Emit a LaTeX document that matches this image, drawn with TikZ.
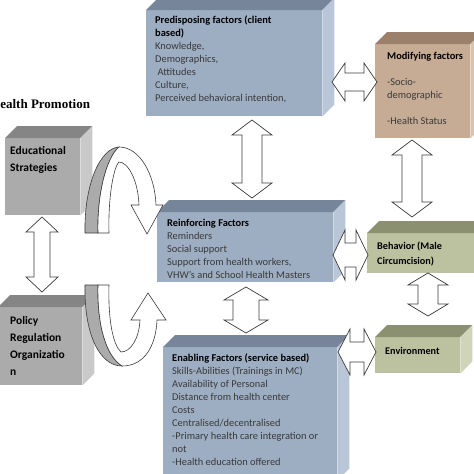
\documentclass[tikz,border=0pt]{standalone}
\usepackage{fontspec}
\setmainfont{Carlito}
\newfontfamily\timesfont{Liberation Serif}
\definecolor{slatefront}{HTML}{9DADC2}
\definecolor{slatetop}{HTML}{76859A}
\definecolor{slateside}{HTML}{B9C6D7}
\definecolor{tanfront}{HTML}{C6AB95}
\definecolor{tantop}{HTML}{9B806B}
\definecolor{tanside}{HTML}{D8C3B1}
\definecolor{olivefront}{HTML}{BCC1A0}
\definecolor{olivetop}{HTML}{8A9070}
\definecolor{oliveside}{HTML}{D0D4B8}
\definecolor{greyfront}{HTML}{ABABAB}
\definecolor{greytop}{HTML}{858585}
\definecolor{greyside}{HTML}{C9C9C9}
\definecolor{edge}{HTML}{3C3C3C}
\definecolor{bodytext}{HTML}{3A3A3A}
\tikzset{
  front/.style={inner sep=0pt, anchor=north west},
  txt/.style={inner sep=0pt, anchor=north west, align=left, text=bodytext,
    font=\fontsize{10.4}{13}\selectfont},
  bigtxt/.style={txt, text=black, font=\bfseries\fontsize{11.5}{17}\selectfont},
  blockarrow/.style={draw=edge, fill=white, line width=0.7pt, line join=miter},
  ribbon/.style={draw=edge, line width=0.6pt}
}
% top and right faces of a box
\newcommand{\cubefaces}[3]{
  \fill[#2] (#1.north west) -- ++(12,-12) -- ([shift={(12,-12)}]#1.north east) -- (#1.north east) -- cycle;
  \fill[#3] (#1.north east) -- ++(12,-12) -- ([shift={(12,-12)}]#1.south east) -- (#1.south east) -- cycle;
}
% vertical double arrow: x, top, bottom, shaft, head, head length
\newcommand{\vdarrow}[6]{
  \draw[blockarrow] (#1,#2) -- (#1+#5,#2+#6) -- (#1+#4,#2+#6) -- (#1+#4,#3-#6) -- (#1+#5,#3-#6)
    -- (#1,#3) -- (#1-#5,#3-#6) -- (#1-#4,#3-#6) -- (#1-#4,#2+#6) -- (#1-#5,#2+#6) -- cycle;
}
% horizontal double arrow: y, left, right, shaft, head, head length
\newcommand{\hdarrow}[6]{
  \draw[blockarrow] (#2,#1) -- (#2+#6,#1-#5) -- (#2+#6,#1-#4) -- (#3-#6,#1-#4) -- (#3-#6,#1-#5)
    -- (#3,#1) -- (#3-#6,#1+#5) -- (#3-#6,#1+#4) -- (#2+#6,#1+#4) -- (#2+#6,#1+#5) -- cycle;
}
\begin{document}
\begin{tikzpicture}[x=1pt,y=-1pt]
\useasboundingbox (0,0) rectangle (474,474);

\node[font=\timesfont\bfseries\fontsize{13}{15}\selectfont, anchor=base west, inner sep=0pt] (hp) at (-10,108) {Health Promotion};

% boxes
\node[front, fill=slatefront, minimum width=176pt, minimum height=106pt] (pre) at (146,10) {};
\cubefaces{pre}{slatetop}{slateside}
\node[txt] (pretxt) at (155,16) {\textbf{\color{black}Predisposing factors (client}\\\textbf{\color{black}based)}\\Knowledge,\\Demographics,\\\ Attitudes\\Culture,\\Perceived behavioral intention,};

\node[front, fill=tanfront, minimum width=95pt, minimum height=94pt] (mod) at (375,44) {};
\cubefaces{mod}{tantop}{tanside}
\node[txt] (modtxt) at (387,52) {\textbf{\color{black}Modifying factors}\\[13pt]-Socio-\\demographic\\[13pt]-Health Status};

\node[front, fill=greyfront, minimum width=75pt, minimum height=77pt] (edu) at (5,138) {};
\cubefaces{edu}{greytop}{greyside}
\node[bigtxt] (edutxt) at (10,146) {Educational\\Strategies};

\node[front, fill=greyfront, minimum width=84pt, minimum height=78pt] (pol) at (-2,307) {};
\cubefaces{pol}{greytop}{greyside}
\node[bigtxt] (poltxt) at (10,316) {Policy\\Regulation\\Organizatio\\n};

\node[front, fill=slatefront, minimum width=176pt, minimum height=70pt] (rein) at (157,212) {};
\cubefaces{rein}{slatetop}{slateside}
\node[txt] (reintxt) at (167,219) {\textbf{\color{black}Reinforcing Factors}\\Reminders\\Social support\\Support from health workers,\\VHW’s and School Health Masters};

\node[front, fill=olivefront, minimum width=112pt, minimum height=40pt] (beh) at (367,233) {};
\cubefaces{beh}{olivetop}{oliveside}
\node[txt, text=black, font=\bfseries\fontsize{10.2}{15}\selectfont] (behtxt) at (377,242) {Behavior (Male\\Circumcision)};

\node[front, fill=olivefront, minimum width=85pt, minimum height=36pt] (env) at (375,337) {};
\cubefaces{env}{olivetop}{oliveside}
\node[txt, text=black, font=\bfseries\fontsize{10.2}{15}\selectfont] (envtxt) at (385,347) {Environment};

\node[front, fill=slatefront, minimum width=174pt, minimum height=133pt] (ena) at (163,347) {};
\cubefaces{ena}{slatetop}{slateside}
\node[txt] (enatxt) at (172,354) {\textbf{\color{black}Enabling Factors (service based)}\\Skills-Abilities (Trainings in MC)\\Availability of Personal\\Distance from health center\\Costs\\Centralised/decentralised\\-Primary health care integration or\\not\\-Health education offered};

% double arrows
\hdarrow{82}{332}{377}{9}{19}{13}
\vdarrow{252}{120}{198}{10}{20}{15}
\vdarrow{412}{140}{217}{10}{20}{15}
\hdarrow{255}{333}{368}{12}{25}{12}
\vdarrow{428}{273}{316}{10}{20}{12}
\vdarrow{246}{287}{333}{13}{22}{13}
\hdarrow{352}{338}{376}{10}{23}{12}
\vdarrow{42}{217}{292}{8}{16}{15}

% curved arrows
\filldraw[ribbon, fill=greyside!85!black] (85,233) .. controls (84,185) and (100,148) .. (119,147)
  .. controls (106,158) and (97,195) .. (98,233) -- cycle;
\filldraw[ribbon, fill=white] (98,233) .. controls (97,195) and (106,158) .. (119,147)
  .. controls (140,147) and (155,175) .. (156,205) -- (163,205) -- (147,234) -- (131,205) -- (139,205)
  .. controls (138,180) and (128,162) .. (119,162) .. controls (113,168) and (108,200) .. (109,233) -- cycle;
\filldraw[ribbon, fill=greyside!85!black] (85,285) .. controls (84,335) and (100,366) .. (122,366)
  .. controls (106,356) and (97,325) .. (98,285) -- cycle;
\filldraw[ribbon, fill=white] (98,285) .. controls (97,325) and (106,356) .. (122,366)
  .. controls (145,366) and (156,345) .. (157,320) -- (166,320) -- (148,293) -- (131,320) -- (140,320)
  .. controls (139,340) and (130,352) .. (121,352) .. controls (113,345) and (108,320) .. (109,285) -- cycle;
\end{tikzpicture}
\end{document}
